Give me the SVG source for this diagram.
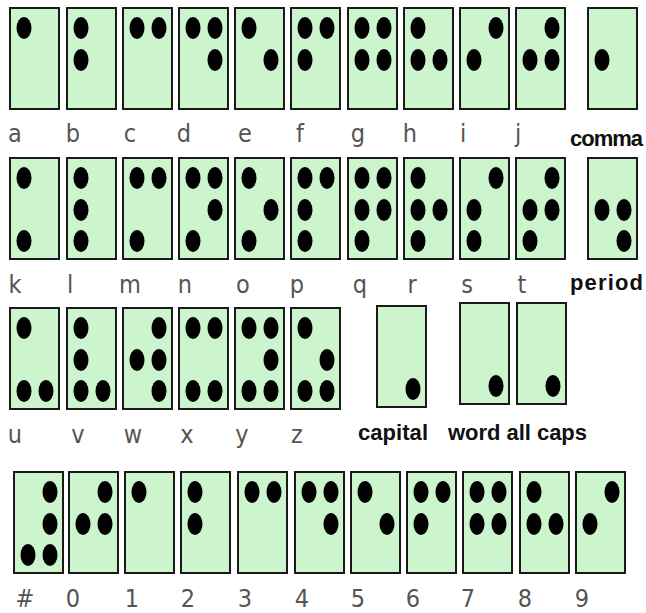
<svg xmlns="http://www.w3.org/2000/svg" xmlns:xlink="http://www.w3.org/1999/xlink" width="646" height="613" viewBox="0 0 646 613">
<style>
.cell{fill:#cdf5cd;stroke:#1a1a1a;stroke-width:2}
.dot{fill:#000}
.lbl{font-family:"DejaVu Sans Condensed","DejaVu Sans",sans-serif;font-weight:200;font-size:25px;fill:#555;text-anchor:middle}
.blbl{font-family:"Liberation Sans",Arial,sans-serif;font-weight:bold;font-size:22px;fill:#111}
</style>
<defs>
<ellipse id="d1" class="dot" cx="14" cy="20" rx="7.5" ry="11"/>
<ellipse id="d2" class="dot" cx="14" cy="52" rx="7.5" ry="11"/>
<ellipse id="d3" class="dot" cx="14" cy="83" rx="7.5" ry="11"/>
<ellipse id="d4" class="dot" cx="36" cy="20" rx="7.5" ry="11"/>
<ellipse id="d5" class="dot" cx="36" cy="52" rx="7.5" ry="11"/>
<ellipse id="d6" class="dot" cx="36" cy="83" rx="7.5" ry="11"/>
<rect id="box" class="cell" x="0" y="0" width="49" height="101"/>
</defs>
<rect width="646" height="613" fill="#fff"/>
<g id="connectors"/>
<!-- Row 1 -->
<g id="a" transform="translate(10,8)"><use href="#box"/><use href="#d1"/></g>
<g id="b" transform="translate(67,8)"><use href="#box"/><use href="#d1"/><use href="#d2"/></g>
<g id="c" transform="translate(123,8)"><use href="#box"/><use href="#d1"/><use href="#d4"/></g>
<g id="d" transform="translate(179,8)"><use href="#box"/><use href="#d1"/><use href="#d4"/><use href="#d5"/></g>
<g id="e" transform="translate(235,8)"><use href="#box"/><use href="#d1"/><use href="#d5"/></g>
<g id="f" transform="translate(291,8)"><use href="#box"/><use href="#d1"/><use href="#d2"/><use href="#d4"/></g>
<g id="g" transform="translate(348,8)"><use href="#box"/><use href="#d1"/><use href="#d2"/><use href="#d4"/><use href="#d5"/></g>
<g id="h" transform="translate(404,8)"><use href="#box"/><use href="#d1"/><use href="#d2"/><use href="#d5"/></g>
<g id="i" transform="translate(460,8)"><use href="#box"/><use href="#d2"/><use href="#d4"/></g>
<g id="j" transform="translate(516,8)"><use href="#box"/><use href="#d2"/><use href="#d4"/><use href="#d5"/></g>
<g id="comma" transform="translate(588,8)"><use href="#box"/><use href="#d2"/></g>
<!-- Row 2 -->
<g id="k" transform="translate(10,158)"><use href="#box"/><use href="#d1"/><use href="#d3"/></g>
<g id="l" transform="translate(67,158)"><use href="#box"/><use href="#d1"/><use href="#d2"/><use href="#d3"/></g>
<g id="m" transform="translate(123,158)"><use href="#box"/><use href="#d1"/><use href="#d3"/><use href="#d4"/></g>
<g id="n" transform="translate(179,158)"><use href="#box"/><use href="#d1"/><use href="#d3"/><use href="#d4"/><use href="#d5"/></g>
<g id="o" transform="translate(235,158)"><use href="#box"/><use href="#d1"/><use href="#d3"/><use href="#d5"/></g>
<g id="p" transform="translate(291,158)"><use href="#box"/><use href="#d1"/><use href="#d2"/><use href="#d3"/><use href="#d4"/></g>
<g id="q" transform="translate(348,158)"><use href="#box"/><use href="#d1"/><use href="#d2"/><use href="#d3"/><use href="#d4"/><use href="#d5"/></g>
<g id="r" transform="translate(404,158)"><use href="#box"/><use href="#d1"/><use href="#d2"/><use href="#d3"/><use href="#d5"/></g>
<g id="s" transform="translate(460,158)"><use href="#box"/><use href="#d2"/><use href="#d3"/><use href="#d4"/></g>
<g id="t" transform="translate(516,158)"><use href="#box"/><use href="#d2"/><use href="#d3"/><use href="#d4"/><use href="#d5"/></g>
<g id="period" transform="translate(588,158)"><use href="#box"/><use href="#d2"/><use href="#d5"/><use href="#d6"/></g>
<!-- Row 3 -->
<g id="u" transform="translate(10,308)"><use href="#box"/><use href="#d1"/><use href="#d3"/><use href="#d6"/></g>
<g id="v" transform="translate(67,308)"><use href="#box"/><use href="#d1"/><use href="#d2"/><use href="#d3"/><use href="#d6"/></g>
<g id="w" transform="translate(123,308)"><use href="#box"/><use href="#d2"/><use href="#d4"/><use href="#d5"/><use href="#d6"/></g>
<g id="x" transform="translate(179,308)"><use href="#box"/><use href="#d1"/><use href="#d3"/><use href="#d4"/><use href="#d6"/></g>
<g id="y" transform="translate(235,308)"><use href="#box"/><use href="#d1"/><use href="#d3"/><use href="#d4"/><use href="#d5"/><use href="#d6"/></g>
<g id="z" transform="translate(291,308)"><use href="#box"/><use href="#d1"/><use href="#d3"/><use href="#d5"/><use href="#d6"/></g>
<g id="capital" transform="translate(377,306)"><use href="#box"/><use href="#d6"/></g>
<g id="caps1" transform="translate(460,303)"><use href="#box"/><use href="#d6"/></g>
<g id="caps2" transform="translate(517,303)"><use href="#box"/><use href="#d6"/></g>
<!-- Row 4 -->
<g id="num" transform="translate(14,472)"><use href="#box"/><use href="#d3"/><use href="#d4"/><use href="#d5"/><use href="#d6"/></g>
<g id="n0" transform="translate(69,472)"><use href="#box"/><use href="#d2"/><use href="#d4"/><use href="#d5"/></g>
<g id="n1" transform="translate(125,472)"><use href="#box"/><use href="#d1"/></g>
<g id="n2" transform="translate(181,472)"><use href="#box"/><use href="#d1"/><use href="#d2"/></g>
<g id="n3" transform="translate(238,472)"><use href="#box"/><use href="#d1"/><use href="#d4"/></g>
<g id="n4" transform="translate(295,472)"><use href="#box"/><use href="#d1"/><use href="#d4"/><use href="#d5"/></g>
<g id="n5" transform="translate(351,472)"><use href="#box"/><use href="#d1"/><use href="#d5"/></g>
<g id="n6" transform="translate(407,472)"><use href="#box"/><use href="#d1"/><use href="#d2"/><use href="#d4"/></g>
<g id="n7" transform="translate(463,472)"><use href="#box"/><use href="#d1"/><use href="#d2"/><use href="#d4"/><use href="#d5"/></g>
<g id="n8" transform="translate(520,472)"><use href="#box"/><use href="#d1"/><use href="#d2"/><use href="#d5"/></g>
<g id="n9" transform="translate(576,472)"><use href="#box"/><use href="#d2"/><use href="#d4"/></g>
<!-- Labels -->
<g id="labels">
<text class="lbl" x="15" y="142">a</text>
<text class="lbl" x="73" y="142">b</text>
<text class="lbl" x="130" y="142">c</text>
<text class="lbl" x="184" y="142">d</text>
<text class="lbl" x="245" y="142">e</text>
<text class="lbl" x="300" y="142">f</text>
<text class="lbl" x="358" y="142">g</text>
<text class="lbl" x="410" y="142">h</text>
<text class="lbl" x="463" y="142">i</text>
<text class="lbl" x="518" y="142">j</text>
<text class="blbl" x="570" y="146" textLength="73">comma</text>
<text class="lbl" x="15" y="293">k</text>
<text class="lbl" x="70" y="293">l</text>
<text class="lbl" x="130" y="293">m</text>
<text class="lbl" x="185" y="293">n</text>
<text class="lbl" x="243" y="293">o</text>
<text class="lbl" x="297" y="293">p</text>
<text class="lbl" x="360" y="293">q</text>
<text class="lbl" x="412" y="293">r</text>
<text class="lbl" x="467" y="293">s</text>
<text class="lbl" x="522" y="293">t</text>
<text class="blbl" x="570" y="290" textLength="73">period</text>
<text class="lbl" x="15" y="443">u</text>
<text class="lbl" x="78" y="443">v</text>
<text class="lbl" x="133" y="443">w</text>
<text class="lbl" x="187" y="443">x</text>
<text class="lbl" x="242" y="443">y</text>
<text class="lbl" x="297" y="443">z</text>
<text class="blbl" x="358" y="440" textLength="70">capital</text>
<text class="blbl" x="448" y="440" textLength="139">word all caps</text>
<text class="lbl" x="25" y="607">#</text>
<text class="lbl" x="73" y="607">0</text>
<text class="lbl" x="132" y="607">1</text>
<text class="lbl" x="188" y="607">2</text>
<text class="lbl" x="245" y="607">3</text>
<text class="lbl" x="302" y="607">4</text>
<text class="lbl" x="358" y="607">5</text>
<text class="lbl" x="413" y="607">6</text>
<text class="lbl" x="468" y="607">7</text>
<text class="lbl" x="525" y="607">8</text>
<text class="lbl" x="582" y="607">9</text>
</g>
</svg>
